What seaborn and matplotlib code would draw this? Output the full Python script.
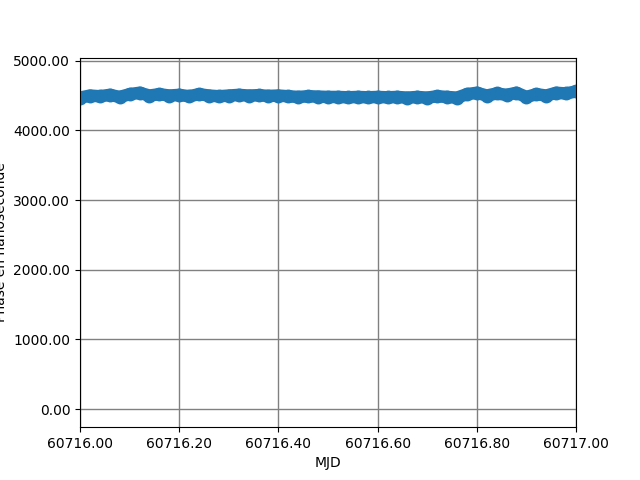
import pandas as pd
import numpy as np
import matplotlib.pyplot as plt
import seaborn as sns
from matplotlib.ticker import FormatStrFormatter

# MJD sampling and phase values (ns)
mjd = [60716.00, 60716.02, 60716.04, 60716.06, 60716.08, 60716.10, 60716.12,
       60716.14, 60716.16, 60716.18, 60716.20, 60716.22, 60716.24, 60716.26,
       60716.28, 60716.30, 60716.32, 60716.34, 60716.36, 60716.38, 60716.40,
       60716.42, 60716.44, 60716.46, 60716.48, 60716.50, 60716.52, 60716.54,
       60716.56, 60716.58, 60716.60, 60716.62, 60716.64, 60716.66, 60716.68,
       60716.70, 60716.72, 60716.74, 60716.76, 60716.78, 60716.80, 60716.82,
       60716.84, 60716.86, 60716.88, 60716.90, 60716.92, 60716.94, 60716.96,
       60716.98, 60717.00]
phase = [4470, 4500, 4490, 4510, 4480, 4520, 4540, 4500, 4520, 4500,
         4510, 4490, 4520, 4500, 4490, 4500, 4510, 4500, 4505, 4495,
         4500, 4490, 4480, 4490, 4485, 4480, 4480, 4475, 4480, 4475,
         4480, 4475, 4480, 4470, 4480, 4470, 4490, 4480, 4470, 4520,
         4540, 4500, 4530, 4510, 4540, 4480, 4520, 4500, 4540, 4530,
         4560]

df = pd.DataFrame({'MJD': mjd, 'phase': phase})

fig, ax = plt.subplots(figsize=(6.4, 4.8), dpi=100)
sns.lineplot(data=df, x='MJD', y='phase', marker='o', markersize=10,
             linewidth=9, color='#1f77b4', markeredgewidth=0, ax=ax)

ax.set_xlim(60716.0, 60717.0)
ax.set_ylim(-260, 5045)
ax.set_xticks([60716.0, 60716.2, 60716.4, 60716.6, 60716.8, 60717.0])
ax.set_yticks([0, 1000, 2000, 3000, 4000, 5000])
ax.xaxis.set_major_formatter(FormatStrFormatter('%.2f'))
ax.yaxis.set_major_formatter(FormatStrFormatter('%.2f'))
ax.grid(True, color='gray', linewidth=1)
ax.set_xlabel('MJD')
ax.set_ylabel('Phase en nanoseconde')

fig.savefig('out.png', dpi=100)
